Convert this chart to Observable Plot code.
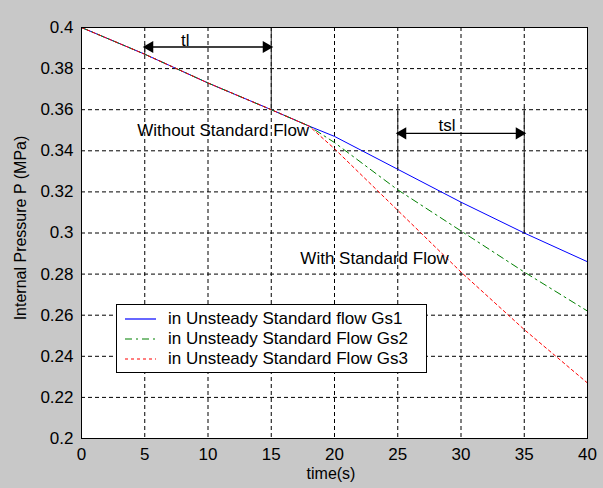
<!DOCTYPE html>
<html>
<head>
<meta charset="utf-8">
<script src="https://cdn.jsdelivr.net/npm/d3@7"></script>
<script src="https://cdn.jsdelivr.net/npm/@observablehq/plot@0.6"></script>
<style>
  html, body { margin: 0; padding: 0; background: #c8c8c8; }
  #wrap { position: relative; width: 603px; height: 488px; font-family: "Liberation Sans", Arial, sans-serif; }
  .lbl { position: absolute; font-size: 16px; color: #000; white-space: nowrap; }
  #legend { position: absolute; left: 116px; top: 304px; width: 311px; height: 69px; background: #fff; border: 1px solid #000; box-sizing: border-box; }
  .row { position: absolute; left: 0; height: 20px; display: flex; align-items: center; font-size: 17px; }
  .row svg { margin-left: 8px; margin-right: 12px; }
</style>
</head>
<body>
<div id="wrap"></div>
<script>
// ---- data ----
const xTicks = [0, 5, 10, 15, 20, 25, 30, 35, 40];
const yTicks = [0.2, 0.22, 0.24, 0.26, 0.28, 0.3, 0.32, 0.34, 0.36, 0.38, 0.4];

const tCommon = [0, 5, 10, 15, 18];
const pCommon = [0.4, 0.387, 0.373, 0.36, 0.352];

const tGs1 = [20, 25, 30, 35, 40];
const pGs1 = [0.347, 0.331, 0.315, 0.300, 0.286];
const tGs2 = [20, 25, 30, 35, 40];
const pGs2 = [0.344, 0.321, 0.301, 0.281, 0.262];
const tGs3 = [20, 22.5, 25, 30, 35, 40];
const pGs3 = [0.341, 0.326, 0.311, 0.281, 0.253, 0.227];

const seriesNames = ["in Unsteady Standard flow Gs1", "in Unsteady Standard Flow Gs2", "in Unsteady Standard Flow Gs3"];
const seriesColors = ["#0000ff", "#008000", "#ff0000"];
const seriesDash = [null, "7,4,2,4", "3,3"];

// annotation spans
const spanNames = ["tl", "tsl"];
const spanStart = [5, 25];
const spanEnd = [15, 35];
const spanY = [0.3905, 0.3485];
const spanLabelX = [8.2, 28.9];
const spanLabelY = [0.3935, 0.3525];
// vertical marker lines: x, y1, y2
const vX = [5, 15, 25, 35];
const vY1 = [0.387, 0.36, 0.331, 0.300];
const vY2 = [0.392, 0.4, 0.361, 0.361];

const noteText = ["Without Standard Flow", "With Standard Flow"];
const noteX = [4.4, 17.3];
const noteY = [0.35, 0.2875];

// ---- build ----
const allT = [tGs1, tGs2, tGs3];
const allP = [pGs1, pGs2, pGs3];
const lineData = seriesNames.map((name, i) => {
  const pts = tCommon.map((t, j) => ({t, p: pCommon[j]}))
    .concat(allT[i].map((t, j) => ({t, p: allP[i][j]})));
  return pts.map(d => ({...d, name}));
});
const spans = spanNames.map((n, i) => ({n, x1: spanStart[i], x2: spanEnd[i], y: spanY[i], lx: spanLabelX[i], ly: spanLabelY[i]}));
const vlines = vX.map((x, i) => ({x, y1: vY1[i], y2: vY2[i]}));
const notes = noteText.map((s, i) => ({s, x: noteX[i], y: noteY[i]}));

const fmt = d => String(+d.toFixed(2));

const marks = [
  Plot.frame({fill: "white", stroke: null}),
  Plot.gridX(xTicks, {stroke: "#000", strokeOpacity: 1, strokeDasharray: "4,3", strokeWidth: 1}),
  Plot.gridY(yTicks, {stroke: "#000", strokeOpacity: 1, strokeDasharray: "4,3", strokeWidth: 1}),
  Plot.axisX(xTicks, {tickSize: 0, tickPadding: 9, tickFormat: fmt, fontSize: 17, fill: "#000", label: null}),
  Plot.axisY(yTicks, {tickSize: 0, tickPadding: 8, tickFormat: fmt, fontSize: 17, fill: "#000", label: null}),
];
lineData.forEach((data, i) => {
  marks.push(Plot.line(data, {x: "t", y: "p", stroke: seriesColors[i], strokeWidth: 1, strokeDasharray: seriesDash[i]}));
});
marks.push(
  Plot.link(vlines, {x1: "x", x2: "x", y1: "y1", y2: "y2", stroke: "#222", strokeWidth: 1}),
  Plot.link(spans, {x1: "x1", x2: "x2", y1: "y", y2: "y", stroke: "#000", strokeWidth: 1.3}),
  Plot.dot(spans, {x: "x1", y: "y", symbol: "triangle", r: 4.5, fill: "#000", stroke: null, rotate: -90, dx: 5}),
  Plot.dot(spans, {x: "x2", y: "y", symbol: "triangle", r: 4.5, fill: "#000", stroke: null, rotate: 90, dx: -5}),
  Plot.text(spans, {x: "lx", y: "ly", text: "n", fontSize: 17, fill: "#000", textAnchor: "middle"}),
  Plot.text(notes, {x: "x", y: "y", text: "s", fontSize: 17, fill: "#000", textAnchor: "start"}),
  Plot.frame({stroke: "#000", strokeWidth: 1})
);

const chart = Plot.plot({
  width: 603,
  height: 488,
  marginLeft: 81,
  marginRight: 16,
  marginTop: 27,
  marginBottom: 50,
  style: {background: "transparent", fontFamily: "'Liberation Sans', Arial, sans-serif", color: "#000"},
  x: {domain: [0, 40]},
  y: {domain: [0.2, 0.4]},
  marks
});

const wrap = document.getElementById("wrap");
chart.style.position = "absolute";
chart.style.left = "0";
chart.style.top = "0";
wrap.appendChild(chart);

// axis labels
const xl = document.createElement("div");
xl.className = "lbl";
xl.textContent = "time(s)";
xl.style.left = "331px";
xl.style.top = "465px";
xl.style.transform = "translateX(-50%)";
wrap.appendChild(xl);

const yl = document.createElement("div");
yl.className = "lbl";
yl.textContent = "Internal Pressure P (MPa)";
yl.style.left = "21px";
yl.style.top = "228px";
yl.style.transform = "translate(-50%, -50%) rotate(-90deg)";
wrap.appendChild(yl);

// legend
const lg = document.createElement("div");
lg.id = "legend";
seriesNames.forEach((name, i) => {
  const row = document.createElement("div");
  row.className = "row";
  row.style.top = (4 + i * 20) + "px";
  const dash = seriesDash[i] ? `stroke-dasharray="${seriesDash[i]}"` : "";
  row.innerHTML = `<svg width="31" height="4"><line x1="0" y1="2" x2="31" y2="2" stroke="${seriesColors[i]}" stroke-width="1.2" ${dash}/></svg><span>${name}</span>`;
  lg.appendChild(row);
});
wrap.appendChild(lg);
</script>
</body>
</html>
